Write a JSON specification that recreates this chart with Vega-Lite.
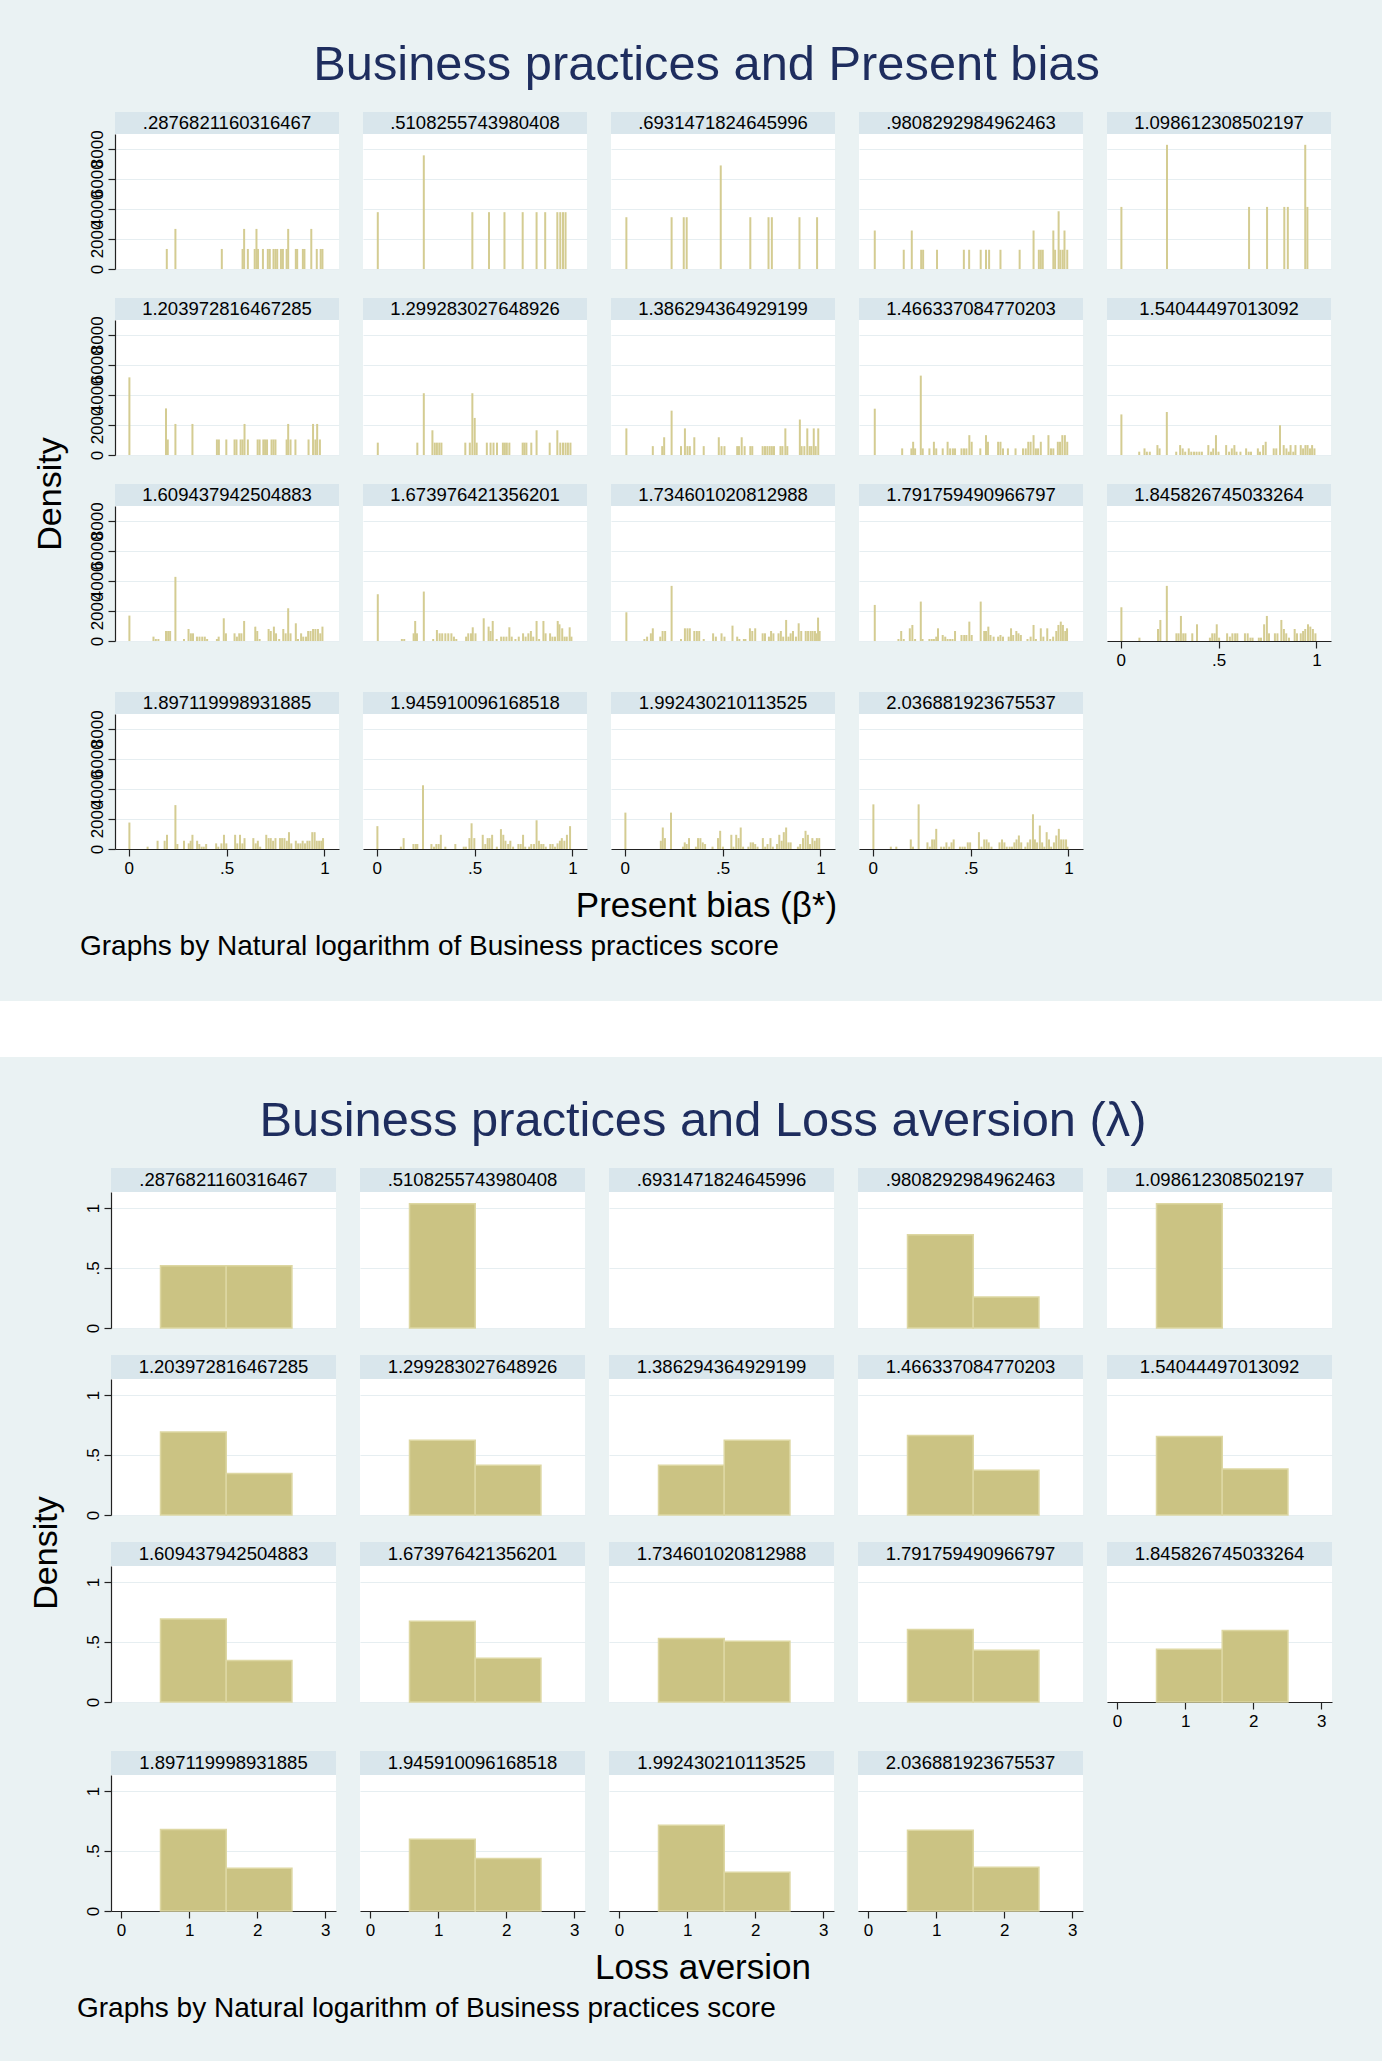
{
"$schema": "https://vega.github.io/schema/vega-lite/v6.json",
"background": "#EAF2F3",
"padding": {"top": 41, "left": 0, "right": 0, "bottom": 40},
"config": {
  "font": "Liberation Sans",
  "view": {"stroke": null, "fill": "white"},
  "axis": {"labelFont": "Liberation Sans", "labelFontSize": 17, "labelColor": "#000", "tickColor": "#222", "domainColor": "#222", "domainWidth": 1.2, "tickWidth": 1.2, "gridColor": "#E6EEF1", "gridWidth": 1.2},
  "axisY": {"grid": true},
  "axisX": {"grid": false},
  "title": {"font": "Liberation Sans", "fontWeight": "normal", "color": "#000"},
  "text": {"font": "Liberation Sans", "color": "#000"}
},
"datasets": {
"A1": [{"x":0.195,"y":1333},{"x":0.239,"y":2667},{"x":0.476,"y":1333},{"x":0.582,"y":1333},{"x":0.59,"y":2667},{"x":0.609,"y":1333},{"x":0.644,"y":1333},{"x":0.653,"y":2667},{"x":0.661,"y":1333},{"x":0.686,"y":1333},{"x":0.711,"y":1333},{"x":0.721,"y":1333},{"x":0.74,"y":1333},{"x":0.75,"y":1333},{"x":0.759,"y":1333},{"x":0.778,"y":1333},{"x":0.788,"y":1333},{"x":0.807,"y":1333},{"x":0.815,"y":2667},{"x":0.854,"y":1333},{"x":0.861,"y":1333},{"x":0.89,"y":1333},{"x":0.898,"y":1333},{"x":0.933,"y":2667},{"x":0.961,"y":1333},{"x":0.981,"y":1333},{"x":0.99,"y":1333}],
"A2": [{"x":0.006,"y":3780},{"x":0.241,"y":7560},{"x":0.489,"y":3780},{"x":0.574,"y":3780},{"x":0.653,"y":3780},{"x":0.746,"y":3780},{"x":0.817,"y":3780},{"x":0.861,"y":3780},{"x":0.923,"y":3780},{"x":0.938,"y":3780},{"x":0.952,"y":3780},{"x":0.965,"y":3780}],
"A3": [{"x":0.009,"y":3444},{"x":0.24,"y":3444},{"x":0.302,"y":3444},{"x":0.317,"y":3444},{"x":0.491,"y":6889},{"x":0.642,"y":3444},{"x":0.735,"y":3444},{"x":0.752,"y":3444},{"x":0.893,"y":3444},{"x":0.983,"y":3444}],
"A4": [{"x":0.011,"y":2560},{"x":0.159,"y":1280},{"x":0.2,"y":2560},{"x":0.248,"y":1280},{"x":0.258,"y":1280},{"x":0.329,"y":1280},{"x":0.466,"y":1280},{"x":0.493,"y":1280},{"x":0.552,"y":1280},{"x":0.579,"y":1280},{"x":0.595,"y":1280},{"x":0.653,"y":1280},{"x":0.751,"y":1280},{"x":0.822,"y":2560},{"x":0.849,"y":1280},{"x":0.859,"y":1280},{"x":0.869,"y":1280},{"x":0.923,"y":2560},{"x":0.932,"y":1280},{"x":0.95,"y":3840},{"x":0.959,"y":1280},{"x":0.971,"y":1280},{"x":0.98,"y":2560},{"x":0.994,"y":1280}],
"A5": [{"x":0.004,"y":4130},{"x":0.237,"y":8260},{"x":0.656,"y":4130},{"x":0.748,"y":4130},{"x":0.836,"y":4130},{"x":0.854,"y":4130},{"x":0.943,"y":8260},{"x":0.954,"y":4130}],
"A6": [{"x":0.004,"y":5165},{"x":0.191,"y":3100},{"x":0.2,"y":1033},{"x":0.239,"y":2066},{"x":0.326,"y":2066},{"x":0.451,"y":1033},{"x":0.461,"y":1033},{"x":0.499,"y":1033},{"x":0.541,"y":1033},{"x":0.551,"y":1033},{"x":0.572,"y":1033},{"x":0.582,"y":1033},{"x":0.592,"y":2066},{"x":0.609,"y":1033},{"x":0.659,"y":1033},{"x":0.669,"y":1033},{"x":0.688,"y":1033},{"x":0.697,"y":1033},{"x":0.707,"y":1033},{"x":0.73,"y":1033},{"x":0.74,"y":1033},{"x":0.75,"y":1033},{"x":0.807,"y":1033},{"x":0.815,"y":2066},{"x":0.827,"y":1033},{"x":0.852,"y":1033},{"x":0.919,"y":1033},{"x":0.942,"y":2066},{"x":0.954,"y":1033},{"x":0.963,"y":2066},{"x":0.977,"y":1033}],
"A7": [{"x":0.006,"y":822},{"x":0.208,"y":822},{"x":0.241,"y":4110},{"x":0.285,"y":1644},{"x":0.297,"y":822},{"x":0.308,"y":822},{"x":0.32,"y":822},{"x":0.331,"y":822},{"x":0.453,"y":822},{"x":0.476,"y":822},{"x":0.489,"y":4110},{"x":0.501,"y":2466},{"x":0.511,"y":822},{"x":0.563,"y":822},{"x":0.582,"y":822},{"x":0.597,"y":822},{"x":0.615,"y":822},{"x":0.645,"y":822},{"x":0.655,"y":822},{"x":0.665,"y":822},{"x":0.678,"y":822},{"x":0.746,"y":822},{"x":0.755,"y":822},{"x":0.765,"y":822},{"x":0.79,"y":822},{"x":0.817,"y":1644},{"x":0.884,"y":822},{"x":0.923,"y":1644},{"x":0.938,"y":822},{"x":0.952,"y":822},{"x":0.965,"y":822},{"x":0.977,"y":822},{"x":0.99,"y":822}],
"A8": [{"x":0.009,"y":1770},{"x":0.144,"y":590},{"x":0.192,"y":590},{"x":0.202,"y":1180},{"x":0.24,"y":2950},{"x":0.288,"y":590},{"x":0.308,"y":1770},{"x":0.321,"y":590},{"x":0.333,"y":590},{"x":0.356,"y":1180},{"x":0.404,"y":590},{"x":0.481,"y":1180},{"x":0.495,"y":590},{"x":0.51,"y":590},{"x":0.575,"y":590},{"x":0.584,"y":590},{"x":0.598,"y":1180},{"x":0.613,"y":590},{"x":0.642,"y":590},{"x":0.652,"y":590},{"x":0.705,"y":590},{"x":0.717,"y":590},{"x":0.729,"y":590},{"x":0.741,"y":590},{"x":0.752,"y":590},{"x":0.763,"y":590},{"x":0.796,"y":590},{"x":0.806,"y":590},{"x":0.821,"y":1770},{"x":0.831,"y":590},{"x":0.895,"y":2360},{"x":0.904,"y":590},{"x":0.918,"y":590},{"x":0.933,"y":1770},{"x":0.945,"y":590},{"x":0.954,"y":590},{"x":0.966,"y":1770},{"x":0.976,"y":590},{"x":0.989,"y":1770}],
"A9": [{"x":0.011,"y":3080},{"x":0.151,"y":440},{"x":0.198,"y":440},{"x":0.207,"y":880},{"x":0.217,"y":440},{"x":0.246,"y":5280},{"x":0.256,"y":440},{"x":0.29,"y":440},{"x":0.313,"y":880},{"x":0.325,"y":440},{"x":0.358,"y":440},{"x":0.383,"y":880},{"x":0.396,"y":440},{"x":0.41,"y":440},{"x":0.421,"y":440},{"x":0.454,"y":440},{"x":0.467,"y":440},{"x":0.479,"y":440},{"x":0.494,"y":1320},{"x":0.506,"y":880},{"x":0.55,"y":440},{"x":0.579,"y":1320},{"x":0.589,"y":880},{"x":0.641,"y":880},{"x":0.653,"y":880},{"x":0.666,"y":440},{"x":0.691,"y":440},{"x":0.73,"y":440},{"x":0.768,"y":440},{"x":0.782,"y":440},{"x":0.795,"y":880},{"x":0.807,"y":880},{"x":0.822,"y":1320},{"x":0.834,"y":440},{"x":0.845,"y":440},{"x":0.859,"y":880},{"x":0.898,"y":1320},{"x":0.911,"y":440},{"x":0.923,"y":440},{"x":0.946,"y":880},{"x":0.957,"y":880},{"x":0.969,"y":1320},{"x":0.982,"y":1320},{"x":0.994,"y":880}],
"A10": [{"x":0.004,"y":2700},{"x":0.095,"y":220},{"x":0.122,"y":440},{"x":0.134,"y":220},{"x":0.149,"y":220},{"x":0.188,"y":660},{"x":0.199,"y":440},{"x":0.236,"y":2860},{"x":0.284,"y":220},{"x":0.304,"y":660},{"x":0.317,"y":440},{"x":0.33,"y":220},{"x":0.348,"y":440},{"x":0.361,"y":220},{"x":0.375,"y":220},{"x":0.388,"y":220},{"x":0.402,"y":220},{"x":0.415,"y":220},{"x":0.448,"y":660},{"x":0.462,"y":220},{"x":0.473,"y":440},{"x":0.487,"y":1320},{"x":0.5,"y":220},{"x":0.539,"y":660},{"x":0.554,"y":220},{"x":0.568,"y":440},{"x":0.581,"y":660},{"x":0.592,"y":220},{"x":0.612,"y":220},{"x":0.641,"y":440},{"x":0.654,"y":220},{"x":0.666,"y":220},{"x":0.701,"y":440},{"x":0.712,"y":220},{"x":0.728,"y":660},{"x":0.741,"y":880},{"x":0.782,"y":440},{"x":0.795,"y":440},{"x":0.814,"y":1980},{"x":0.833,"y":660},{"x":0.847,"y":440},{"x":0.859,"y":220},{"x":0.868,"y":660},{"x":0.882,"y":220},{"x":0.893,"y":660},{"x":0.92,"y":660},{"x":0.932,"y":440},{"x":0.944,"y":660},{"x":0.955,"y":660},{"x":0.967,"y":440},{"x":0.978,"y":660},{"x":0.99,"y":440}],
"A11": [{"x":0.004,"y":1690},{"x":0.127,"y":290},{"x":0.139,"y":133},{"x":0.152,"y":133},{"x":0.191,"y":667},{"x":0.202,"y":667},{"x":0.212,"y":667},{"x":0.239,"y":4267},{"x":0.283,"y":133},{"x":0.306,"y":800},{"x":0.318,"y":511},{"x":0.329,"y":511},{"x":0.349,"y":289},{"x":0.362,"y":289},{"x":0.376,"y":289},{"x":0.389,"y":289},{"x":0.401,"y":133},{"x":0.451,"y":133},{"x":0.46,"y":289},{"x":0.486,"y":1511},{"x":0.497,"y":511},{"x":0.541,"y":511},{"x":0.553,"y":289},{"x":0.565,"y":511},{"x":0.576,"y":511},{"x":0.59,"y":1333},{"x":0.647,"y":956},{"x":0.657,"y":667},{"x":0.669,"y":133},{"x":0.715,"y":800},{"x":0.726,"y":667},{"x":0.742,"y":956},{"x":0.753,"y":511},{"x":0.769,"y":133},{"x":0.79,"y":800},{"x":0.802,"y":511},{"x":0.815,"y":2178},{"x":0.827,"y":511},{"x":0.854,"y":1178},{"x":0.865,"y":133},{"x":0.881,"y":511},{"x":0.892,"y":289},{"x":0.906,"y":289},{"x":0.917,"y":667},{"x":0.929,"y":667},{"x":0.942,"y":800},{"x":0.954,"y":800},{"x":0.967,"y":800},{"x":0.979,"y":511},{"x":0.99,"y":956}],
"A12": [{"x":0.006,"y":3111},{"x":0.129,"y":133},{"x":0.141,"y":133},{"x":0.189,"y":511},{"x":0.197,"y":1333},{"x":0.206,"y":511},{"x":0.241,"y":3289},{"x":0.289,"y":133},{"x":0.308,"y":733},{"x":0.322,"y":511},{"x":0.335,"y":511},{"x":0.351,"y":511},{"x":0.366,"y":511},{"x":0.382,"y":511},{"x":0.395,"y":289},{"x":0.407,"y":133},{"x":0.457,"y":289},{"x":0.468,"y":511},{"x":0.482,"y":511},{"x":0.491,"y":911},{"x":0.505,"y":511},{"x":0.547,"y":1511},{"x":0.572,"y":956},{"x":0.582,"y":667},{"x":0.593,"y":1333},{"x":0.613,"y":133},{"x":0.636,"y":289},{"x":0.649,"y":289},{"x":0.663,"y":289},{"x":0.678,"y":911},{"x":0.69,"y":289},{"x":0.709,"y":133},{"x":0.726,"y":289},{"x":0.748,"y":511},{"x":0.761,"y":289},{"x":0.775,"y":511},{"x":0.788,"y":667},{"x":0.8,"y":289},{"x":0.817,"y":1333},{"x":0.83,"y":133},{"x":0.852,"y":1333},{"x":0.863,"y":511},{"x":0.886,"y":511},{"x":0.898,"y":289},{"x":0.911,"y":289},{"x":0.925,"y":1333},{"x":0.934,"y":1111},{"x":0.948,"y":844},{"x":0.96,"y":289},{"x":0.971,"y":289},{"x":0.986,"y":911},{"x":0.995,"y":289}],
"A13": [{"x":0.009,"y":1911},{"x":0.101,"y":133},{"x":0.115,"y":289},{"x":0.134,"y":511},{"x":0.144,"y":844},{"x":0.182,"y":289},{"x":0.194,"y":667},{"x":0.207,"y":667},{"x":0.24,"y":3667},{"x":0.288,"y":133},{"x":0.308,"y":844},{"x":0.321,"y":844},{"x":0.333,"y":844},{"x":0.356,"y":667},{"x":0.369,"y":667},{"x":0.381,"y":667},{"x":0.404,"y":133},{"x":0.452,"y":511},{"x":0.466,"y":289},{"x":0.495,"y":511},{"x":0.51,"y":289},{"x":0.551,"y":1022},{"x":0.575,"y":289},{"x":0.586,"y":133},{"x":0.609,"y":133},{"x":0.617,"y":133},{"x":0.64,"y":844},{"x":0.652,"y":667},{"x":0.667,"y":844},{"x":0.705,"y":511},{"x":0.717,"y":511},{"x":0.737,"y":289},{"x":0.748,"y":667},{"x":0.76,"y":511},{"x":0.786,"y":511},{"x":0.798,"y":667},{"x":0.81,"y":289},{"x":0.825,"y":1400},{"x":0.837,"y":289},{"x":0.848,"y":511},{"x":0.86,"y":667},{"x":0.875,"y":289},{"x":0.889,"y":1178},{"x":0.902,"y":667},{"x":0.925,"y":667},{"x":0.937,"y":667},{"x":0.95,"y":667},{"x":0.96,"y":667},{"x":0.972,"y":667},{"x":0.979,"y":511},{"x":0.988,"y":1556},{"x":0.996,"y":667}],
"A14": [{"x":0.011,"y":2400},{"x":0.132,"y":133},{"x":0.146,"y":667},{"x":0.159,"y":133},{"x":0.19,"y":844},{"x":0.203,"y":1067},{"x":0.217,"y":133},{"x":0.246,"y":2622},{"x":0.255,"y":133},{"x":0.29,"y":133},{"x":0.302,"y":133},{"x":0.313,"y":133},{"x":0.325,"y":289},{"x":0.334,"y":844},{"x":0.358,"y":400},{"x":0.371,"y":289},{"x":0.383,"y":133},{"x":0.396,"y":133},{"x":0.408,"y":133},{"x":0.421,"y":667},{"x":0.454,"y":400},{"x":0.468,"y":400},{"x":0.479,"y":400},{"x":0.494,"y":1289},{"x":0.506,"y":400},{"x":0.552,"y":2622},{"x":0.57,"y":667},{"x":0.579,"y":667},{"x":0.591,"y":956},{"x":0.602,"y":400},{"x":0.618,"y":289},{"x":0.641,"y":289},{"x":0.653,"y":400},{"x":0.666,"y":289},{"x":0.695,"y":289},{"x":0.707,"y":844},{"x":0.718,"y":400},{"x":0.734,"y":667},{"x":0.745,"y":511},{"x":0.757,"y":400},{"x":0.791,"y":133},{"x":0.807,"y":289},{"x":0.822,"y":1067},{"x":0.834,"y":133},{"x":0.859,"y":844},{"x":0.872,"y":289},{"x":0.892,"y":844},{"x":0.907,"y":133},{"x":0.922,"y":289},{"x":0.938,"y":667},{"x":0.949,"y":1067},{"x":0.961,"y":1289},{"x":0.972,"y":1067},{"x":0.984,"y":667},{"x":0.993,"y":844}],
"A15": [{"x":0.004,"y":2244},{"x":0.096,"y":222},{"x":0.191,"y":800},{"x":0.203,"y":1400},{"x":0.236,"y":3667},{"x":0.285,"y":511},{"x":0.296,"y":511},{"x":0.308,"y":1667},{"x":0.32,"y":511},{"x":0.331,"y":511},{"x":0.366,"y":511},{"x":0.39,"y":1111},{"x":0.456,"y":222},{"x":0.468,"y":511},{"x":0.48,"y":511},{"x":0.491,"y":1111},{"x":0.503,"y":222},{"x":0.544,"y":511},{"x":0.558,"y":289},{"x":0.571,"y":511},{"x":0.585,"y":511},{"x":0.596,"y":511},{"x":0.635,"y":511},{"x":0.649,"y":511},{"x":0.663,"y":222},{"x":0.674,"y":222},{"x":0.706,"y":222},{"x":0.717,"y":222},{"x":0.733,"y":1111},{"x":0.747,"y":1667},{"x":0.758,"y":511},{"x":0.788,"y":511},{"x":0.801,"y":511},{"x":0.821,"y":1400},{"x":0.834,"y":800},{"x":0.846,"y":511},{"x":0.86,"y":222},{"x":0.889,"y":800},{"x":0.901,"y":511},{"x":0.92,"y":511},{"x":0.932,"y":667},{"x":0.943,"y":800},{"x":0.957,"y":1111},{"x":0.969,"y":956},{"x":0.982,"y":800},{"x":0.995,"y":511}],
"A16": [{"x":0.004,"y":1760},{"x":0.097,"y":154},{"x":0.148,"y":550},{"x":0.184,"y":550},{"x":0.196,"y":945},{"x":0.239,"y":2920},{"x":0.249,"y":330},{"x":0.283,"y":550},{"x":0.307,"y":374},{"x":0.317,"y":550},{"x":0.326,"y":945},{"x":0.35,"y":550},{"x":0.361,"y":330},{"x":0.373,"y":154},{"x":0.384,"y":154},{"x":0.396,"y":330},{"x":0.447,"y":374},{"x":0.458,"y":154},{"x":0.474,"y":374},{"x":0.487,"y":945},{"x":0.499,"y":374},{"x":0.544,"y":945},{"x":0.555,"y":374},{"x":0.569,"y":945},{"x":0.581,"y":374},{"x":0.592,"y":725},{"x":0.637,"y":725},{"x":0.649,"y":374},{"x":0.66,"y":550},{"x":0.672,"y":154},{"x":0.703,"y":945},{"x":0.715,"y":725},{"x":0.726,"y":725},{"x":0.738,"y":550},{"x":0.75,"y":725},{"x":0.773,"y":725},{"x":0.784,"y":725},{"x":0.796,"y":725},{"x":0.808,"y":550},{"x":0.819,"y":1120},{"x":0.831,"y":374},{"x":0.854,"y":550},{"x":0.866,"y":374},{"x":0.878,"y":374},{"x":0.889,"y":550},{"x":0.901,"y":374},{"x":0.913,"y":550},{"x":0.924,"y":550},{"x":0.938,"y":1120},{"x":0.95,"y":1120},{"x":0.961,"y":550},{"x":0.973,"y":550},{"x":0.984,"y":550},{"x":0.993,"y":725}],
"A17": [{"x":0.004,"y":1520},{"x":0.124,"y":154},{"x":0.138,"y":725},{"x":0.188,"y":330},{"x":0.2,"y":330},{"x":0.208,"y":330},{"x":0.237,"y":4240},{"x":0.28,"y":330},{"x":0.293,"y":154},{"x":0.305,"y":330},{"x":0.317,"y":330},{"x":0.328,"y":945},{"x":0.351,"y":154},{"x":0.402,"y":330},{"x":0.445,"y":154},{"x":0.456,"y":154},{"x":0.474,"y":725},{"x":0.485,"y":1710},{"x":0.499,"y":725},{"x":0.542,"y":945},{"x":0.555,"y":330},{"x":0.567,"y":725},{"x":0.577,"y":725},{"x":0.59,"y":945},{"x":0.614,"y":154},{"x":0.635,"y":1320},{"x":0.647,"y":945},{"x":0.658,"y":550},{"x":0.672,"y":330},{"x":0.683,"y":550},{"x":0.697,"y":154},{"x":0.724,"y":330},{"x":0.736,"y":330},{"x":0.748,"y":945},{"x":0.759,"y":154},{"x":0.779,"y":154},{"x":0.79,"y":330},{"x":0.804,"y":330},{"x":0.817,"y":1910},{"x":0.829,"y":550},{"x":0.841,"y":330},{"x":0.852,"y":330},{"x":0.864,"y":154},{"x":0.887,"y":330},{"x":0.899,"y":330},{"x":0.911,"y":154},{"x":0.924,"y":374},{"x":0.936,"y":550},{"x":0.946,"y":725},{"x":0.959,"y":550},{"x":0.972,"y":945},{"x":0.988,"y":1520}],
"A18": [{"x":0.004,"y":2420},{"x":0.185,"y":550},{"x":0.195,"y":1430},{"x":0.206,"y":725},{"x":0.237,"y":2420},{"x":0.298,"y":154},{"x":0.307,"y":440},{"x":0.317,"y":330},{"x":0.329,"y":725},{"x":0.364,"y":154},{"x":0.375,"y":725},{"x":0.387,"y":725},{"x":0.399,"y":440},{"x":0.411,"y":330},{"x":0.449,"y":154},{"x":0.477,"y":725},{"x":0.488,"y":1210},{"x":0.502,"y":154},{"x":0.545,"y":945},{"x":0.556,"y":154},{"x":0.57,"y":945},{"x":0.582,"y":725},{"x":0.593,"y":1430},{"x":0.605,"y":154},{"x":0.632,"y":154},{"x":0.644,"y":440},{"x":0.656,"y":440},{"x":0.667,"y":330},{"x":0.679,"y":154},{"x":0.706,"y":725},{"x":0.718,"y":154},{"x":0.73,"y":330},{"x":0.745,"y":725},{"x":0.757,"y":154},{"x":0.778,"y":330},{"x":0.79,"y":945},{"x":0.802,"y":550},{"x":0.813,"y":1120},{"x":0.825,"y":1430},{"x":0.837,"y":440},{"x":0.848,"y":440},{"x":0.885,"y":154},{"x":0.897,"y":330},{"x":0.911,"y":725},{"x":0.924,"y":1210},{"x":0.936,"y":945},{"x":0.947,"y":330},{"x":0.959,"y":725},{"x":0.971,"y":550},{"x":0.982,"y":725},{"x":0.994,"y":725}],
"A19": [{"x":0.004,"y":2970},{"x":0.093,"y":154},{"x":0.121,"y":154},{"x":0.195,"y":637},{"x":0.206,"y":154},{"x":0.235,"y":2970},{"x":0.28,"y":440},{"x":0.292,"y":154},{"x":0.304,"y":637},{"x":0.315,"y":637},{"x":0.325,"y":1340},{"x":0.35,"y":154},{"x":0.364,"y":154},{"x":0.377,"y":440},{"x":0.391,"y":154},{"x":0.403,"y":440},{"x":0.414,"y":637},{"x":0.446,"y":154},{"x":0.459,"y":154},{"x":0.471,"y":154},{"x":0.486,"y":440},{"x":0.498,"y":440},{"x":0.543,"y":1120},{"x":0.556,"y":154},{"x":0.57,"y":637},{"x":0.582,"y":637},{"x":0.593,"y":440},{"x":0.607,"y":154},{"x":0.648,"y":440},{"x":0.661,"y":637},{"x":0.673,"y":440},{"x":0.685,"y":154},{"x":0.7,"y":154},{"x":0.712,"y":154},{"x":0.724,"y":440},{"x":0.735,"y":637},{"x":0.747,"y":900},{"x":0.759,"y":440},{"x":0.78,"y":154},{"x":0.792,"y":440},{"x":0.805,"y":637},{"x":0.819,"y":2310},{"x":0.829,"y":637},{"x":0.84,"y":440},{"x":0.854,"y":1560},{"x":0.866,"y":440},{"x":0.877,"y":154},{"x":0.889,"y":1120},{"x":0.901,"y":637},{"x":0.912,"y":154},{"x":0.926,"y":440},{"x":0.938,"y":900},{"x":0.951,"y":1340},{"x":0.963,"y":637},{"x":0.975,"y":637},{"x":0.988,"y":637},{"x":0.995,"y":154}],
"B1": [{"lo":0.58,"hi":1.545,"y":0.518},{"lo":1.545,"hi":2.51,"y":0.518}],
"B2": [{"lo":0.58,"hi":1.545,"y":1.036}],
"B3": [],
"B4": [{"lo":0.58,"hi":1.545,"y":0.777},{"lo":1.545,"hi":2.51,"y":0.259}],
"B5": [{"lo":0.58,"hi":1.545,"y":1.036}],
"B6": [{"lo":0.58,"hi":1.545,"y":0.691},{"lo":1.545,"hi":2.51,"y":0.345}],
"B7": [{"lo":0.58,"hi":1.545,"y":0.622},{"lo":1.545,"hi":2.51,"y":0.414}],
"B8": [{"lo":0.58,"hi":1.545,"y":0.414},{"lo":1.545,"hi":2.51,"y":0.622}],
"B9": [{"lo":0.58,"hi":1.545,"y":0.663},{"lo":1.545,"hi":2.51,"y":0.373}],
"B10": [{"lo":0.58,"hi":1.545,"y":0.653},{"lo":1.545,"hi":2.51,"y":0.383}],
"B11": [{"lo":0.58,"hi":1.545,"y":0.691},{"lo":1.545,"hi":2.51,"y":0.345}],
"B12": [{"lo":0.58,"hi":1.545,"y":0.672},{"lo":1.545,"hi":2.51,"y":0.364}],
"B13": [{"lo":0.58,"hi":1.545,"y":0.53},{"lo":1.545,"hi":2.51,"y":0.506}],
"B14": [{"lo":0.58,"hi":1.545,"y":0.604},{"lo":1.545,"hi":2.51,"y":0.432}],
"B15": [{"lo":0.58,"hi":1.545,"y":0.44},{"lo":1.545,"hi":2.51,"y":0.596}],
"B16": [{"lo":0.58,"hi":1.545,"y":0.68},{"lo":1.545,"hi":2.51,"y":0.356}],
"B17": [{"lo":0.58,"hi":1.545,"y":0.598},{"lo":1.545,"hi":2.51,"y":0.438}],
"B18": [{"lo":0.58,"hi":1.545,"y":0.714},{"lo":1.545,"hi":2.51,"y":0.322}],
"B19": [{"lo":0.58,"hi":1.545,"y":0.672},{"lo":1.545,"hi":2.51,"y":0.364}]
},
"spacing": 40,
"vconcat": [
{"spacing": 0, "hconcat": [
{"width": 34, "height": 20, "view": {"fill": "transparent", "stroke": null}, "data": {"values": []}, "mark": {"type": "text", "text": " "}, "encoding": {}},
{
"title": {"text": "Business practices and Present bias", "fontSize": 48.8, "color": "#1E2D5E", "offset": 22, "anchor": "middle", "dx": 24},
"vconcat": [{
"title": {"text": "Graphs by Natural logarithm of Business practices score", "orient": "bottom", "anchor": "start", "fontSize": 28, "offset": 9, "dx": 46},
"vconcat": [{
"title": {"text": "Present bias (β*)", "orient": "bottom", "anchor": "middle", "fontSize": 35, "offset": 13, "dx": 24},
"vconcat": [{
"title": {"text": "Density", "orient": "left", "anchor": "middle", "fontSize": 34, "offset": 20},
"spacing": 24,
"vconcat": [
{"spacing": 24, "hconcat": [
{"spacing": 0, "bounds": "flush", "vconcat": [
{"width": 224, "height": 22, "view": {"fill": "#D9E6EC", "stroke": null}, "data": {"values": [{"p": ".2876821160316467"}]}, "mark": {"type": "text", "fontSize": 18.5, "baseline": "middle"}, "encoding": {"text": {"field": "p"}, "x": {"field": "p", "type": "nominal", "axis": null}, "y": {"field": "p", "type": "nominal", "axis": null}}},
{"width": 224, "height": 135, "data": {"name": "A1"}, "mark": {"type": "bar", "orient": "vertical", "size": 2, "color": "#D4CC92"}, "encoding": {"x": {"field": "x", "type": "quantitative", "scale": {"domain": [-0.044, 1.049], "nice": false, "zero": false}, "axis": null}, "y": {"field": "y", "type": "quantitative", "scale": {"domain": [0, 8980], "nice": false}, "axis": {"values": [0,2000,4000,6000,8000], "format": "d", "title": null, "labelAngle": 270, "labelAlign": "center", "labelBaseline": "alphabetic", "labelOverlap": false, "labelFlush": false, "labelPadding": 6, "tickSize": 7}}}}
]},
{"spacing": 0, "bounds": "flush", "vconcat": [
{"width": 224, "height": 22, "view": {"fill": "#D9E6EC", "stroke": null}, "data": {"values": [{"p": ".5108255743980408"}]}, "mark": {"type": "text", "fontSize": 18.5, "baseline": "middle"}, "encoding": {"text": {"field": "p"}, "x": {"field": "p", "type": "nominal", "axis": null}, "y": {"field": "p", "type": "nominal", "axis": null}}},
{"width": 224, "height": 135, "data": {"name": "A2"}, "mark": {"type": "bar", "orient": "vertical", "size": 2, "color": "#D4CC92"}, "encoding": {"x": {"field": "x", "type": "quantitative", "scale": {"domain": [-0.044, 1.049], "nice": false, "zero": false}, "axis": null}, "y": {"field": "y", "type": "quantitative", "scale": {"domain": [0, 8980], "nice": false}, "axis": {"values": [0,2000,4000,6000,8000], "title": null, "labels": false, "ticks": false, "domain": false}}}}
]},
{"spacing": 0, "bounds": "flush", "vconcat": [
{"width": 224, "height": 22, "view": {"fill": "#D9E6EC", "stroke": null}, "data": {"values": [{"p": ".6931471824645996"}]}, "mark": {"type": "text", "fontSize": 18.5, "baseline": "middle"}, "encoding": {"text": {"field": "p"}, "x": {"field": "p", "type": "nominal", "axis": null}, "y": {"field": "p", "type": "nominal", "axis": null}}},
{"width": 224, "height": 135, "data": {"name": "A3"}, "mark": {"type": "bar", "orient": "vertical", "size": 2, "color": "#D4CC92"}, "encoding": {"x": {"field": "x", "type": "quantitative", "scale": {"domain": [-0.044, 1.049], "nice": false, "zero": false}, "axis": null}, "y": {"field": "y", "type": "quantitative", "scale": {"domain": [0, 8980], "nice": false}, "axis": {"values": [0,2000,4000,6000,8000], "title": null, "labels": false, "ticks": false, "domain": false}}}}
]},
{"spacing": 0, "bounds": "flush", "vconcat": [
{"width": 224, "height": 22, "view": {"fill": "#D9E6EC", "stroke": null}, "data": {"values": [{"p": ".9808292984962463"}]}, "mark": {"type": "text", "fontSize": 18.5, "baseline": "middle"}, "encoding": {"text": {"field": "p"}, "x": {"field": "p", "type": "nominal", "axis": null}, "y": {"field": "p", "type": "nominal", "axis": null}}},
{"width": 224, "height": 135, "data": {"name": "A4"}, "mark": {"type": "bar", "orient": "vertical", "size": 2, "color": "#D4CC92"}, "encoding": {"x": {"field": "x", "type": "quantitative", "scale": {"domain": [-0.044, 1.049], "nice": false, "zero": false}, "axis": null}, "y": {"field": "y", "type": "quantitative", "scale": {"domain": [0, 8980], "nice": false}, "axis": {"values": [0,2000,4000,6000,8000], "title": null, "labels": false, "ticks": false, "domain": false}}}}
]},
{"spacing": 0, "bounds": "flush", "vconcat": [
{"width": 224, "height": 22, "view": {"fill": "#D9E6EC", "stroke": null}, "data": {"values": [{"p": "1.098612308502197"}]}, "mark": {"type": "text", "fontSize": 18.5, "baseline": "middle"}, "encoding": {"text": {"field": "p"}, "x": {"field": "p", "type": "nominal", "axis": null}, "y": {"field": "p", "type": "nominal", "axis": null}}},
{"width": 224, "height": 135, "data": {"name": "A5"}, "mark": {"type": "bar", "orient": "vertical", "size": 2, "color": "#D4CC92"}, "encoding": {"x": {"field": "x", "type": "quantitative", "scale": {"domain": [-0.044, 1.049], "nice": false, "zero": false}, "axis": null}, "y": {"field": "y", "type": "quantitative", "scale": {"domain": [0, 8980], "nice": false}, "axis": {"values": [0,2000,4000,6000,8000], "title": null, "labels": false, "ticks": false, "domain": false}}}}
]}
]},
{"spacing": 24, "hconcat": [
{"spacing": 0, "bounds": "flush", "vconcat": [
{"width": 224, "height": 22, "view": {"fill": "#D9E6EC", "stroke": null}, "data": {"values": [{"p": "1.203972816467285"}]}, "mark": {"type": "text", "fontSize": 18.5, "baseline": "middle"}, "encoding": {"text": {"field": "p"}, "x": {"field": "p", "type": "nominal", "axis": null}, "y": {"field": "p", "type": "nominal", "axis": null}}},
{"width": 224, "height": 135, "data": {"name": "A6"}, "mark": {"type": "bar", "orient": "vertical", "size": 2, "color": "#D4CC92"}, "encoding": {"x": {"field": "x", "type": "quantitative", "scale": {"domain": [-0.044, 1.049], "nice": false, "zero": false}, "axis": null}, "y": {"field": "y", "type": "quantitative", "scale": {"domain": [0, 8980], "nice": false}, "axis": {"values": [0,2000,4000,6000,8000], "format": "d", "title": null, "labelAngle": 270, "labelAlign": "center", "labelBaseline": "alphabetic", "labelOverlap": false, "labelFlush": false, "labelPadding": 6, "tickSize": 7}}}}
]},
{"spacing": 0, "bounds": "flush", "vconcat": [
{"width": 224, "height": 22, "view": {"fill": "#D9E6EC", "stroke": null}, "data": {"values": [{"p": "1.299283027648926"}]}, "mark": {"type": "text", "fontSize": 18.5, "baseline": "middle"}, "encoding": {"text": {"field": "p"}, "x": {"field": "p", "type": "nominal", "axis": null}, "y": {"field": "p", "type": "nominal", "axis": null}}},
{"width": 224, "height": 135, "data": {"name": "A7"}, "mark": {"type": "bar", "orient": "vertical", "size": 2, "color": "#D4CC92"}, "encoding": {"x": {"field": "x", "type": "quantitative", "scale": {"domain": [-0.044, 1.049], "nice": false, "zero": false}, "axis": null}, "y": {"field": "y", "type": "quantitative", "scale": {"domain": [0, 8980], "nice": false}, "axis": {"values": [0,2000,4000,6000,8000], "title": null, "labels": false, "ticks": false, "domain": false}}}}
]},
{"spacing": 0, "bounds": "flush", "vconcat": [
{"width": 224, "height": 22, "view": {"fill": "#D9E6EC", "stroke": null}, "data": {"values": [{"p": "1.386294364929199"}]}, "mark": {"type": "text", "fontSize": 18.5, "baseline": "middle"}, "encoding": {"text": {"field": "p"}, "x": {"field": "p", "type": "nominal", "axis": null}, "y": {"field": "p", "type": "nominal", "axis": null}}},
{"width": 224, "height": 135, "data": {"name": "A8"}, "mark": {"type": "bar", "orient": "vertical", "size": 2, "color": "#D4CC92"}, "encoding": {"x": {"field": "x", "type": "quantitative", "scale": {"domain": [-0.044, 1.049], "nice": false, "zero": false}, "axis": null}, "y": {"field": "y", "type": "quantitative", "scale": {"domain": [0, 8980], "nice": false}, "axis": {"values": [0,2000,4000,6000,8000], "title": null, "labels": false, "ticks": false, "domain": false}}}}
]},
{"spacing": 0, "bounds": "flush", "vconcat": [
{"width": 224, "height": 22, "view": {"fill": "#D9E6EC", "stroke": null}, "data": {"values": [{"p": "1.466337084770203"}]}, "mark": {"type": "text", "fontSize": 18.5, "baseline": "middle"}, "encoding": {"text": {"field": "p"}, "x": {"field": "p", "type": "nominal", "axis": null}, "y": {"field": "p", "type": "nominal", "axis": null}}},
{"width": 224, "height": 135, "data": {"name": "A9"}, "mark": {"type": "bar", "orient": "vertical", "size": 2, "color": "#D4CC92"}, "encoding": {"x": {"field": "x", "type": "quantitative", "scale": {"domain": [-0.044, 1.049], "nice": false, "zero": false}, "axis": null}, "y": {"field": "y", "type": "quantitative", "scale": {"domain": [0, 8980], "nice": false}, "axis": {"values": [0,2000,4000,6000,8000], "title": null, "labels": false, "ticks": false, "domain": false}}}}
]},
{"spacing": 0, "bounds": "flush", "vconcat": [
{"width": 224, "height": 22, "view": {"fill": "#D9E6EC", "stroke": null}, "data": {"values": [{"p": "1.54044497013092"}]}, "mark": {"type": "text", "fontSize": 18.5, "baseline": "middle"}, "encoding": {"text": {"field": "p"}, "x": {"field": "p", "type": "nominal", "axis": null}, "y": {"field": "p", "type": "nominal", "axis": null}}},
{"width": 224, "height": 135, "data": {"name": "A10"}, "mark": {"type": "bar", "orient": "vertical", "size": 2, "color": "#D4CC92"}, "encoding": {"x": {"field": "x", "type": "quantitative", "scale": {"domain": [-0.044, 1.049], "nice": false, "zero": false}, "axis": null}, "y": {"field": "y", "type": "quantitative", "scale": {"domain": [0, 8980], "nice": false}, "axis": {"values": [0,2000,4000,6000,8000], "title": null, "labels": false, "ticks": false, "domain": false}}}}
]}
]},
{"spacing": 24, "hconcat": [
{"spacing": 0, "bounds": "flush", "vconcat": [
{"width": 224, "height": 22, "view": {"fill": "#D9E6EC", "stroke": null}, "data": {"values": [{"p": "1.609437942504883"}]}, "mark": {"type": "text", "fontSize": 18.5, "baseline": "middle"}, "encoding": {"text": {"field": "p"}, "x": {"field": "p", "type": "nominal", "axis": null}, "y": {"field": "p", "type": "nominal", "axis": null}}},
{"width": 224, "height": 135, "data": {"name": "A11"}, "mark": {"type": "bar", "orient": "vertical", "size": 2, "color": "#D4CC92"}, "encoding": {"x": {"field": "x", "type": "quantitative", "scale": {"domain": [-0.044, 1.049], "nice": false, "zero": false}, "axis": null}, "y": {"field": "y", "type": "quantitative", "scale": {"domain": [0, 8980], "nice": false}, "axis": {"values": [0,2000,4000,6000,8000], "format": "d", "title": null, "labelAngle": 270, "labelAlign": "center", "labelBaseline": "alphabetic", "labelOverlap": false, "labelFlush": false, "labelPadding": 6, "tickSize": 7}}}}
]},
{"spacing": 0, "bounds": "flush", "vconcat": [
{"width": 224, "height": 22, "view": {"fill": "#D9E6EC", "stroke": null}, "data": {"values": [{"p": "1.673976421356201"}]}, "mark": {"type": "text", "fontSize": 18.5, "baseline": "middle"}, "encoding": {"text": {"field": "p"}, "x": {"field": "p", "type": "nominal", "axis": null}, "y": {"field": "p", "type": "nominal", "axis": null}}},
{"width": 224, "height": 135, "data": {"name": "A12"}, "mark": {"type": "bar", "orient": "vertical", "size": 2, "color": "#D4CC92"}, "encoding": {"x": {"field": "x", "type": "quantitative", "scale": {"domain": [-0.044, 1.049], "nice": false, "zero": false}, "axis": null}, "y": {"field": "y", "type": "quantitative", "scale": {"domain": [0, 8980], "nice": false}, "axis": {"values": [0,2000,4000,6000,8000], "title": null, "labels": false, "ticks": false, "domain": false}}}}
]},
{"spacing": 0, "bounds": "flush", "vconcat": [
{"width": 224, "height": 22, "view": {"fill": "#D9E6EC", "stroke": null}, "data": {"values": [{"p": "1.734601020812988"}]}, "mark": {"type": "text", "fontSize": 18.5, "baseline": "middle"}, "encoding": {"text": {"field": "p"}, "x": {"field": "p", "type": "nominal", "axis": null}, "y": {"field": "p", "type": "nominal", "axis": null}}},
{"width": 224, "height": 135, "data": {"name": "A13"}, "mark": {"type": "bar", "orient": "vertical", "size": 2, "color": "#D4CC92"}, "encoding": {"x": {"field": "x", "type": "quantitative", "scale": {"domain": [-0.044, 1.049], "nice": false, "zero": false}, "axis": null}, "y": {"field": "y", "type": "quantitative", "scale": {"domain": [0, 8980], "nice": false}, "axis": {"values": [0,2000,4000,6000,8000], "title": null, "labels": false, "ticks": false, "domain": false}}}}
]},
{"spacing": 0, "bounds": "flush", "vconcat": [
{"width": 224, "height": 22, "view": {"fill": "#D9E6EC", "stroke": null}, "data": {"values": [{"p": "1.791759490966797"}]}, "mark": {"type": "text", "fontSize": 18.5, "baseline": "middle"}, "encoding": {"text": {"field": "p"}, "x": {"field": "p", "type": "nominal", "axis": null}, "y": {"field": "p", "type": "nominal", "axis": null}}},
{"width": 224, "height": 135, "data": {"name": "A14"}, "mark": {"type": "bar", "orient": "vertical", "size": 2, "color": "#D4CC92"}, "encoding": {"x": {"field": "x", "type": "quantitative", "scale": {"domain": [-0.044, 1.049], "nice": false, "zero": false}, "axis": null}, "y": {"field": "y", "type": "quantitative", "scale": {"domain": [0, 8980], "nice": false}, "axis": {"values": [0,2000,4000,6000,8000], "title": null, "labels": false, "ticks": false, "domain": false}}}}
]},
{"spacing": 0, "bounds": "flush", "vconcat": [
{"width": 224, "height": 22, "view": {"fill": "#D9E6EC", "stroke": null}, "data": {"values": [{"p": "1.845826745033264"}]}, "mark": {"type": "text", "fontSize": 18.5, "baseline": "middle"}, "encoding": {"text": {"field": "p"}, "x": {"field": "p", "type": "nominal", "axis": null}, "y": {"field": "p", "type": "nominal", "axis": null}}},
{"width": 224, "height": 135, "data": {"name": "A15"}, "mark": {"type": "bar", "orient": "vertical", "size": 2, "color": "#D4CC92"}, "encoding": {"x": {"field": "x", "type": "quantitative", "scale": {"domain": [-0.044, 1.049], "nice": false, "zero": false}, "axis": {"values": [0, 0.5, 1], "labelExpr": "datum.value == 0.5 ? '.5' : format(datum.value, 'd')", "title": null, "tickSize": 7, "labelPadding": 4}}, "y": {"field": "y", "type": "quantitative", "scale": {"domain": [0, 8980], "nice": false}, "axis": {"values": [0,2000,4000,6000,8000], "title": null, "labels": false, "ticks": false, "domain": false}}}}
]}
]},
{"spacing": 24, "hconcat": [
{"spacing": 0, "bounds": "flush", "vconcat": [
{"width": 224, "height": 22, "view": {"fill": "#D9E6EC", "stroke": null}, "data": {"values": [{"p": "1.897119998931885"}]}, "mark": {"type": "text", "fontSize": 18.5, "baseline": "middle"}, "encoding": {"text": {"field": "p"}, "x": {"field": "p", "type": "nominal", "axis": null}, "y": {"field": "p", "type": "nominal", "axis": null}}},
{"width": 224, "height": 135, "data": {"name": "A16"}, "mark": {"type": "bar", "orient": "vertical", "size": 2, "color": "#D4CC92"}, "encoding": {"x": {"field": "x", "type": "quantitative", "scale": {"domain": [-0.044, 1.049], "nice": false, "zero": false}, "axis": {"values": [0, 0.5, 1], "labelExpr": "datum.value == 0.5 ? '.5' : format(datum.value, 'd')", "title": null, "tickSize": 7, "labelPadding": 4}}, "y": {"field": "y", "type": "quantitative", "scale": {"domain": [0, 8980], "nice": false}, "axis": {"values": [0,2000,4000,6000,8000], "format": "d", "title": null, "labelAngle": 270, "labelAlign": "center", "labelBaseline": "alphabetic", "labelOverlap": false, "labelFlush": false, "labelPadding": 6, "tickSize": 7}}}}
]},
{"spacing": 0, "bounds": "flush", "vconcat": [
{"width": 224, "height": 22, "view": {"fill": "#D9E6EC", "stroke": null}, "data": {"values": [{"p": "1.945910096168518"}]}, "mark": {"type": "text", "fontSize": 18.5, "baseline": "middle"}, "encoding": {"text": {"field": "p"}, "x": {"field": "p", "type": "nominal", "axis": null}, "y": {"field": "p", "type": "nominal", "axis": null}}},
{"width": 224, "height": 135, "data": {"name": "A17"}, "mark": {"type": "bar", "orient": "vertical", "size": 2, "color": "#D4CC92"}, "encoding": {"x": {"field": "x", "type": "quantitative", "scale": {"domain": [-0.044, 1.049], "nice": false, "zero": false}, "axis": {"values": [0, 0.5, 1], "labelExpr": "datum.value == 0.5 ? '.5' : format(datum.value, 'd')", "title": null, "tickSize": 7, "labelPadding": 4}}, "y": {"field": "y", "type": "quantitative", "scale": {"domain": [0, 8980], "nice": false}, "axis": {"values": [0,2000,4000,6000,8000], "title": null, "labels": false, "ticks": false, "domain": false}}}}
]},
{"spacing": 0, "bounds": "flush", "vconcat": [
{"width": 224, "height": 22, "view": {"fill": "#D9E6EC", "stroke": null}, "data": {"values": [{"p": "1.992430210113525"}]}, "mark": {"type": "text", "fontSize": 18.5, "baseline": "middle"}, "encoding": {"text": {"field": "p"}, "x": {"field": "p", "type": "nominal", "axis": null}, "y": {"field": "p", "type": "nominal", "axis": null}}},
{"width": 224, "height": 135, "data": {"name": "A18"}, "mark": {"type": "bar", "orient": "vertical", "size": 2, "color": "#D4CC92"}, "encoding": {"x": {"field": "x", "type": "quantitative", "scale": {"domain": [-0.044, 1.049], "nice": false, "zero": false}, "axis": {"values": [0, 0.5, 1], "labelExpr": "datum.value == 0.5 ? '.5' : format(datum.value, 'd')", "title": null, "tickSize": 7, "labelPadding": 4}}, "y": {"field": "y", "type": "quantitative", "scale": {"domain": [0, 8980], "nice": false}, "axis": {"values": [0,2000,4000,6000,8000], "title": null, "labels": false, "ticks": false, "domain": false}}}}
]},
{"spacing": 0, "bounds": "flush", "vconcat": [
{"width": 224, "height": 22, "view": {"fill": "#D9E6EC", "stroke": null}, "data": {"values": [{"p": "2.036881923675537"}]}, "mark": {"type": "text", "fontSize": 18.5, "baseline": "middle"}, "encoding": {"text": {"field": "p"}, "x": {"field": "p", "type": "nominal", "axis": null}, "y": {"field": "p", "type": "nominal", "axis": null}}},
{"width": 224, "height": 135, "data": {"name": "A19"}, "mark": {"type": "bar", "orient": "vertical", "size": 2, "color": "#D4CC92"}, "encoding": {"x": {"field": "x", "type": "quantitative", "scale": {"domain": [-0.044, 1.049], "nice": false, "zero": false}, "axis": {"values": [0, 0.5, 1], "labelExpr": "datum.value == 0.5 ? '.5' : format(datum.value, 'd')", "title": null, "tickSize": 7, "labelPadding": 4}}, "y": {"field": "y", "type": "quantitative", "scale": {"domain": [0, 8980], "nice": false}, "axis": {"values": [0,2000,4000,6000,8000], "title": null, "labels": false, "ticks": false, "domain": false}}}}
]}
]}
]
}]
}]
}]
}
]},
{"width": 1382, "height": 56, "view": {"fill": "white", "stroke": null}, "data": {"values": []}, "mark": {"type": "text", "text": " "}, "encoding": {}},
{"spacing": 0, "hconcat": [
{"width": 30, "height": 20, "view": {"fill": "transparent", "stroke": null}, "data": {"values": []}, "mark": {"type": "text", "text": " "}, "encoding": {}},
{
"title": {"text": "Business practices and Loss aversion (λ)", "fontSize": 48.8, "color": "#1E2D5E", "offset": 22, "anchor": "middle", "dx": 22},
"vconcat": [{
"title": {"text": "Graphs by Natural logarithm of Business practices score", "orient": "bottom", "anchor": "start", "fontSize": 28, "offset": 9, "dx": 47},
"vconcat": [{
"title": {"text": "Loss aversion", "orient": "bottom", "anchor": "middle", "fontSize": 35, "offset": 13, "dx": 22},
"vconcat": [{
"title": {"text": "Density", "orient": "left", "anchor": "middle", "fontSize": 34, "offset": 20},
"spacing": 22,
"vconcat": [
{"spacing": 24, "hconcat": [
{"spacing": 0, "bounds": "flush", "vconcat": [
{"width": 225, "height": 24, "view": {"fill": "#D9E6EC", "stroke": null}, "data": {"values": [{"p": ".2876821160316467"}]}, "mark": {"type": "text", "fontSize": 18.5, "baseline": "middle"}, "encoding": {"text": {"field": "p"}, "x": {"field": "p", "type": "nominal", "axis": null}, "y": {"field": "p", "type": "nominal", "axis": null}}},
{"width": 225, "height": 136, "data": {"name": "B1"}, "mark": {"type": "bar", "color": "#CBC383", "stroke": "#DDD7A2", "strokeWidth": 1.5}, "encoding": {"x": {"field": "lo", "type": "quantitative", "scale": {"domain": [-0.147, 3.157], "nice": false, "zero": false}, "axis": null}, "x2": {"field": "hi"}, "y": {"field": "y", "type": "quantitative", "scale": {"domain": [0, 1.133], "nice": false}, "axis": {"values": [0, 0.5, 1], "labelExpr": "datum.value == 0.5 ? '.5' : format(datum.value, 'd')", "title": null, "labelAngle": 270, "labelAlign": "center", "labelBaseline": "alphabetic", "labelOverlap": false, "labelFlush": false, "labelPadding": 6, "tickSize": 7}}, "y2": {"datum": 0}}}
]},
{"spacing": 0, "bounds": "flush", "vconcat": [
{"width": 225, "height": 24, "view": {"fill": "#D9E6EC", "stroke": null}, "data": {"values": [{"p": ".5108255743980408"}]}, "mark": {"type": "text", "fontSize": 18.5, "baseline": "middle"}, "encoding": {"text": {"field": "p"}, "x": {"field": "p", "type": "nominal", "axis": null}, "y": {"field": "p", "type": "nominal", "axis": null}}},
{"width": 225, "height": 136, "data": {"name": "B2"}, "mark": {"type": "bar", "color": "#CBC383", "stroke": "#DDD7A2", "strokeWidth": 1.5}, "encoding": {"x": {"field": "lo", "type": "quantitative", "scale": {"domain": [-0.147, 3.157], "nice": false, "zero": false}, "axis": null}, "x2": {"field": "hi"}, "y": {"field": "y", "type": "quantitative", "scale": {"domain": [0, 1.133], "nice": false}, "axis": {"values": [0, 0.5, 1], "title": null, "labels": false, "ticks": false, "domain": false}}, "y2": {"datum": 0}}}
]},
{"spacing": 0, "bounds": "flush", "vconcat": [
{"width": 225, "height": 24, "view": {"fill": "#D9E6EC", "stroke": null}, "data": {"values": [{"p": ".6931471824645996"}]}, "mark": {"type": "text", "fontSize": 18.5, "baseline": "middle"}, "encoding": {"text": {"field": "p"}, "x": {"field": "p", "type": "nominal", "axis": null}, "y": {"field": "p", "type": "nominal", "axis": null}}},
{"width": 225, "height": 136, "data": {"name": "B3"}, "mark": {"type": "bar", "color": "#CBC383", "stroke": "#DDD7A2", "strokeWidth": 1.5}, "encoding": {"x": {"field": "lo", "type": "quantitative", "scale": {"domain": [-0.147, 3.157], "nice": false, "zero": false}, "axis": null}, "x2": {"field": "hi"}, "y": {"field": "y", "type": "quantitative", "scale": {"domain": [0, 1.133], "nice": false}, "axis": {"values": [0, 0.5, 1], "title": null, "labels": false, "ticks": false, "domain": false}}, "y2": {"datum": 0}}}
]},
{"spacing": 0, "bounds": "flush", "vconcat": [
{"width": 225, "height": 24, "view": {"fill": "#D9E6EC", "stroke": null}, "data": {"values": [{"p": ".9808292984962463"}]}, "mark": {"type": "text", "fontSize": 18.5, "baseline": "middle"}, "encoding": {"text": {"field": "p"}, "x": {"field": "p", "type": "nominal", "axis": null}, "y": {"field": "p", "type": "nominal", "axis": null}}},
{"width": 225, "height": 136, "data": {"name": "B4"}, "mark": {"type": "bar", "color": "#CBC383", "stroke": "#DDD7A2", "strokeWidth": 1.5}, "encoding": {"x": {"field": "lo", "type": "quantitative", "scale": {"domain": [-0.147, 3.157], "nice": false, "zero": false}, "axis": null}, "x2": {"field": "hi"}, "y": {"field": "y", "type": "quantitative", "scale": {"domain": [0, 1.133], "nice": false}, "axis": {"values": [0, 0.5, 1], "title": null, "labels": false, "ticks": false, "domain": false}}, "y2": {"datum": 0}}}
]},
{"spacing": 0, "bounds": "flush", "vconcat": [
{"width": 225, "height": 24, "view": {"fill": "#D9E6EC", "stroke": null}, "data": {"values": [{"p": "1.098612308502197"}]}, "mark": {"type": "text", "fontSize": 18.5, "baseline": "middle"}, "encoding": {"text": {"field": "p"}, "x": {"field": "p", "type": "nominal", "axis": null}, "y": {"field": "p", "type": "nominal", "axis": null}}},
{"width": 225, "height": 136, "data": {"name": "B5"}, "mark": {"type": "bar", "color": "#CBC383", "stroke": "#DDD7A2", "strokeWidth": 1.5}, "encoding": {"x": {"field": "lo", "type": "quantitative", "scale": {"domain": [-0.147, 3.157], "nice": false, "zero": false}, "axis": null}, "x2": {"field": "hi"}, "y": {"field": "y", "type": "quantitative", "scale": {"domain": [0, 1.133], "nice": false}, "axis": {"values": [0, 0.5, 1], "title": null, "labels": false, "ticks": false, "domain": false}}, "y2": {"datum": 0}}}
]}
]},
{"spacing": 24, "hconcat": [
{"spacing": 0, "bounds": "flush", "vconcat": [
{"width": 225, "height": 24, "view": {"fill": "#D9E6EC", "stroke": null}, "data": {"values": [{"p": "1.203972816467285"}]}, "mark": {"type": "text", "fontSize": 18.5, "baseline": "middle"}, "encoding": {"text": {"field": "p"}, "x": {"field": "p", "type": "nominal", "axis": null}, "y": {"field": "p", "type": "nominal", "axis": null}}},
{"width": 225, "height": 136, "data": {"name": "B6"}, "mark": {"type": "bar", "color": "#CBC383", "stroke": "#DDD7A2", "strokeWidth": 1.5}, "encoding": {"x": {"field": "lo", "type": "quantitative", "scale": {"domain": [-0.147, 3.157], "nice": false, "zero": false}, "axis": null}, "x2": {"field": "hi"}, "y": {"field": "y", "type": "quantitative", "scale": {"domain": [0, 1.133], "nice": false}, "axis": {"values": [0, 0.5, 1], "labelExpr": "datum.value == 0.5 ? '.5' : format(datum.value, 'd')", "title": null, "labelAngle": 270, "labelAlign": "center", "labelBaseline": "alphabetic", "labelOverlap": false, "labelFlush": false, "labelPadding": 6, "tickSize": 7}}, "y2": {"datum": 0}}}
]},
{"spacing": 0, "bounds": "flush", "vconcat": [
{"width": 225, "height": 24, "view": {"fill": "#D9E6EC", "stroke": null}, "data": {"values": [{"p": "1.299283027648926"}]}, "mark": {"type": "text", "fontSize": 18.5, "baseline": "middle"}, "encoding": {"text": {"field": "p"}, "x": {"field": "p", "type": "nominal", "axis": null}, "y": {"field": "p", "type": "nominal", "axis": null}}},
{"width": 225, "height": 136, "data": {"name": "B7"}, "mark": {"type": "bar", "color": "#CBC383", "stroke": "#DDD7A2", "strokeWidth": 1.5}, "encoding": {"x": {"field": "lo", "type": "quantitative", "scale": {"domain": [-0.147, 3.157], "nice": false, "zero": false}, "axis": null}, "x2": {"field": "hi"}, "y": {"field": "y", "type": "quantitative", "scale": {"domain": [0, 1.133], "nice": false}, "axis": {"values": [0, 0.5, 1], "title": null, "labels": false, "ticks": false, "domain": false}}, "y2": {"datum": 0}}}
]},
{"spacing": 0, "bounds": "flush", "vconcat": [
{"width": 225, "height": 24, "view": {"fill": "#D9E6EC", "stroke": null}, "data": {"values": [{"p": "1.386294364929199"}]}, "mark": {"type": "text", "fontSize": 18.5, "baseline": "middle"}, "encoding": {"text": {"field": "p"}, "x": {"field": "p", "type": "nominal", "axis": null}, "y": {"field": "p", "type": "nominal", "axis": null}}},
{"width": 225, "height": 136, "data": {"name": "B8"}, "mark": {"type": "bar", "color": "#CBC383", "stroke": "#DDD7A2", "strokeWidth": 1.5}, "encoding": {"x": {"field": "lo", "type": "quantitative", "scale": {"domain": [-0.147, 3.157], "nice": false, "zero": false}, "axis": null}, "x2": {"field": "hi"}, "y": {"field": "y", "type": "quantitative", "scale": {"domain": [0, 1.133], "nice": false}, "axis": {"values": [0, 0.5, 1], "title": null, "labels": false, "ticks": false, "domain": false}}, "y2": {"datum": 0}}}
]},
{"spacing": 0, "bounds": "flush", "vconcat": [
{"width": 225, "height": 24, "view": {"fill": "#D9E6EC", "stroke": null}, "data": {"values": [{"p": "1.466337084770203"}]}, "mark": {"type": "text", "fontSize": 18.5, "baseline": "middle"}, "encoding": {"text": {"field": "p"}, "x": {"field": "p", "type": "nominal", "axis": null}, "y": {"field": "p", "type": "nominal", "axis": null}}},
{"width": 225, "height": 136, "data": {"name": "B9"}, "mark": {"type": "bar", "color": "#CBC383", "stroke": "#DDD7A2", "strokeWidth": 1.5}, "encoding": {"x": {"field": "lo", "type": "quantitative", "scale": {"domain": [-0.147, 3.157], "nice": false, "zero": false}, "axis": null}, "x2": {"field": "hi"}, "y": {"field": "y", "type": "quantitative", "scale": {"domain": [0, 1.133], "nice": false}, "axis": {"values": [0, 0.5, 1], "title": null, "labels": false, "ticks": false, "domain": false}}, "y2": {"datum": 0}}}
]},
{"spacing": 0, "bounds": "flush", "vconcat": [
{"width": 225, "height": 24, "view": {"fill": "#D9E6EC", "stroke": null}, "data": {"values": [{"p": "1.54044497013092"}]}, "mark": {"type": "text", "fontSize": 18.5, "baseline": "middle"}, "encoding": {"text": {"field": "p"}, "x": {"field": "p", "type": "nominal", "axis": null}, "y": {"field": "p", "type": "nominal", "axis": null}}},
{"width": 225, "height": 136, "data": {"name": "B10"}, "mark": {"type": "bar", "color": "#CBC383", "stroke": "#DDD7A2", "strokeWidth": 1.5}, "encoding": {"x": {"field": "lo", "type": "quantitative", "scale": {"domain": [-0.147, 3.157], "nice": false, "zero": false}, "axis": null}, "x2": {"field": "hi"}, "y": {"field": "y", "type": "quantitative", "scale": {"domain": [0, 1.133], "nice": false}, "axis": {"values": [0, 0.5, 1], "title": null, "labels": false, "ticks": false, "domain": false}}, "y2": {"datum": 0}}}
]}
]},
{"spacing": 24, "hconcat": [
{"spacing": 0, "bounds": "flush", "vconcat": [
{"width": 225, "height": 24, "view": {"fill": "#D9E6EC", "stroke": null}, "data": {"values": [{"p": "1.609437942504883"}]}, "mark": {"type": "text", "fontSize": 18.5, "baseline": "middle"}, "encoding": {"text": {"field": "p"}, "x": {"field": "p", "type": "nominal", "axis": null}, "y": {"field": "p", "type": "nominal", "axis": null}}},
{"width": 225, "height": 136, "data": {"name": "B11"}, "mark": {"type": "bar", "color": "#CBC383", "stroke": "#DDD7A2", "strokeWidth": 1.5}, "encoding": {"x": {"field": "lo", "type": "quantitative", "scale": {"domain": [-0.147, 3.157], "nice": false, "zero": false}, "axis": null}, "x2": {"field": "hi"}, "y": {"field": "y", "type": "quantitative", "scale": {"domain": [0, 1.133], "nice": false}, "axis": {"values": [0, 0.5, 1], "labelExpr": "datum.value == 0.5 ? '.5' : format(datum.value, 'd')", "title": null, "labelAngle": 270, "labelAlign": "center", "labelBaseline": "alphabetic", "labelOverlap": false, "labelFlush": false, "labelPadding": 6, "tickSize": 7}}, "y2": {"datum": 0}}}
]},
{"spacing": 0, "bounds": "flush", "vconcat": [
{"width": 225, "height": 24, "view": {"fill": "#D9E6EC", "stroke": null}, "data": {"values": [{"p": "1.673976421356201"}]}, "mark": {"type": "text", "fontSize": 18.5, "baseline": "middle"}, "encoding": {"text": {"field": "p"}, "x": {"field": "p", "type": "nominal", "axis": null}, "y": {"field": "p", "type": "nominal", "axis": null}}},
{"width": 225, "height": 136, "data": {"name": "B12"}, "mark": {"type": "bar", "color": "#CBC383", "stroke": "#DDD7A2", "strokeWidth": 1.5}, "encoding": {"x": {"field": "lo", "type": "quantitative", "scale": {"domain": [-0.147, 3.157], "nice": false, "zero": false}, "axis": null}, "x2": {"field": "hi"}, "y": {"field": "y", "type": "quantitative", "scale": {"domain": [0, 1.133], "nice": false}, "axis": {"values": [0, 0.5, 1], "title": null, "labels": false, "ticks": false, "domain": false}}, "y2": {"datum": 0}}}
]},
{"spacing": 0, "bounds": "flush", "vconcat": [
{"width": 225, "height": 24, "view": {"fill": "#D9E6EC", "stroke": null}, "data": {"values": [{"p": "1.734601020812988"}]}, "mark": {"type": "text", "fontSize": 18.5, "baseline": "middle"}, "encoding": {"text": {"field": "p"}, "x": {"field": "p", "type": "nominal", "axis": null}, "y": {"field": "p", "type": "nominal", "axis": null}}},
{"width": 225, "height": 136, "data": {"name": "B13"}, "mark": {"type": "bar", "color": "#CBC383", "stroke": "#DDD7A2", "strokeWidth": 1.5}, "encoding": {"x": {"field": "lo", "type": "quantitative", "scale": {"domain": [-0.147, 3.157], "nice": false, "zero": false}, "axis": null}, "x2": {"field": "hi"}, "y": {"field": "y", "type": "quantitative", "scale": {"domain": [0, 1.133], "nice": false}, "axis": {"values": [0, 0.5, 1], "title": null, "labels": false, "ticks": false, "domain": false}}, "y2": {"datum": 0}}}
]},
{"spacing": 0, "bounds": "flush", "vconcat": [
{"width": 225, "height": 24, "view": {"fill": "#D9E6EC", "stroke": null}, "data": {"values": [{"p": "1.791759490966797"}]}, "mark": {"type": "text", "fontSize": 18.5, "baseline": "middle"}, "encoding": {"text": {"field": "p"}, "x": {"field": "p", "type": "nominal", "axis": null}, "y": {"field": "p", "type": "nominal", "axis": null}}},
{"width": 225, "height": 136, "data": {"name": "B14"}, "mark": {"type": "bar", "color": "#CBC383", "stroke": "#DDD7A2", "strokeWidth": 1.5}, "encoding": {"x": {"field": "lo", "type": "quantitative", "scale": {"domain": [-0.147, 3.157], "nice": false, "zero": false}, "axis": null}, "x2": {"field": "hi"}, "y": {"field": "y", "type": "quantitative", "scale": {"domain": [0, 1.133], "nice": false}, "axis": {"values": [0, 0.5, 1], "title": null, "labels": false, "ticks": false, "domain": false}}, "y2": {"datum": 0}}}
]},
{"spacing": 0, "bounds": "flush", "vconcat": [
{"width": 225, "height": 24, "view": {"fill": "#D9E6EC", "stroke": null}, "data": {"values": [{"p": "1.845826745033264"}]}, "mark": {"type": "text", "fontSize": 18.5, "baseline": "middle"}, "encoding": {"text": {"field": "p"}, "x": {"field": "p", "type": "nominal", "axis": null}, "y": {"field": "p", "type": "nominal", "axis": null}}},
{"width": 225, "height": 136, "data": {"name": "B15"}, "mark": {"type": "bar", "color": "#CBC383", "stroke": "#DDD7A2", "strokeWidth": 1.5}, "encoding": {"x": {"field": "lo", "type": "quantitative", "scale": {"domain": [-0.147, 3.157], "nice": false, "zero": false}, "axis": {"values": [0, 1, 2, 3], "title": null, "tickSize": 7, "labelPadding": 4}}, "x2": {"field": "hi"}, "y": {"field": "y", "type": "quantitative", "scale": {"domain": [0, 1.133], "nice": false}, "axis": {"values": [0, 0.5, 1], "title": null, "labels": false, "ticks": false, "domain": false}}, "y2": {"datum": 0}}}
]}
]},
{"spacing": 24, "hconcat": [
{"spacing": 0, "bounds": "flush", "vconcat": [
{"width": 225, "height": 24, "view": {"fill": "#D9E6EC", "stroke": null}, "data": {"values": [{"p": "1.897119998931885"}]}, "mark": {"type": "text", "fontSize": 18.5, "baseline": "middle"}, "encoding": {"text": {"field": "p"}, "x": {"field": "p", "type": "nominal", "axis": null}, "y": {"field": "p", "type": "nominal", "axis": null}}},
{"width": 225, "height": 136, "data": {"name": "B16"}, "mark": {"type": "bar", "color": "#CBC383", "stroke": "#DDD7A2", "strokeWidth": 1.5}, "encoding": {"x": {"field": "lo", "type": "quantitative", "scale": {"domain": [-0.147, 3.157], "nice": false, "zero": false}, "axis": {"values": [0, 1, 2, 3], "title": null, "tickSize": 7, "labelPadding": 4}}, "x2": {"field": "hi"}, "y": {"field": "y", "type": "quantitative", "scale": {"domain": [0, 1.133], "nice": false}, "axis": {"values": [0, 0.5, 1], "labelExpr": "datum.value == 0.5 ? '.5' : format(datum.value, 'd')", "title": null, "labelAngle": 270, "labelAlign": "center", "labelBaseline": "alphabetic", "labelOverlap": false, "labelFlush": false, "labelPadding": 6, "tickSize": 7}}, "y2": {"datum": 0}}}
]},
{"spacing": 0, "bounds": "flush", "vconcat": [
{"width": 225, "height": 24, "view": {"fill": "#D9E6EC", "stroke": null}, "data": {"values": [{"p": "1.945910096168518"}]}, "mark": {"type": "text", "fontSize": 18.5, "baseline": "middle"}, "encoding": {"text": {"field": "p"}, "x": {"field": "p", "type": "nominal", "axis": null}, "y": {"field": "p", "type": "nominal", "axis": null}}},
{"width": 225, "height": 136, "data": {"name": "B17"}, "mark": {"type": "bar", "color": "#CBC383", "stroke": "#DDD7A2", "strokeWidth": 1.5}, "encoding": {"x": {"field": "lo", "type": "quantitative", "scale": {"domain": [-0.147, 3.157], "nice": false, "zero": false}, "axis": {"values": [0, 1, 2, 3], "title": null, "tickSize": 7, "labelPadding": 4}}, "x2": {"field": "hi"}, "y": {"field": "y", "type": "quantitative", "scale": {"domain": [0, 1.133], "nice": false}, "axis": {"values": [0, 0.5, 1], "title": null, "labels": false, "ticks": false, "domain": false}}, "y2": {"datum": 0}}}
]},
{"spacing": 0, "bounds": "flush", "vconcat": [
{"width": 225, "height": 24, "view": {"fill": "#D9E6EC", "stroke": null}, "data": {"values": [{"p": "1.992430210113525"}]}, "mark": {"type": "text", "fontSize": 18.5, "baseline": "middle"}, "encoding": {"text": {"field": "p"}, "x": {"field": "p", "type": "nominal", "axis": null}, "y": {"field": "p", "type": "nominal", "axis": null}}},
{"width": 225, "height": 136, "data": {"name": "B18"}, "mark": {"type": "bar", "color": "#CBC383", "stroke": "#DDD7A2", "strokeWidth": 1.5}, "encoding": {"x": {"field": "lo", "type": "quantitative", "scale": {"domain": [-0.147, 3.157], "nice": false, "zero": false}, "axis": {"values": [0, 1, 2, 3], "title": null, "tickSize": 7, "labelPadding": 4}}, "x2": {"field": "hi"}, "y": {"field": "y", "type": "quantitative", "scale": {"domain": [0, 1.133], "nice": false}, "axis": {"values": [0, 0.5, 1], "title": null, "labels": false, "ticks": false, "domain": false}}, "y2": {"datum": 0}}}
]},
{"spacing": 0, "bounds": "flush", "vconcat": [
{"width": 225, "height": 24, "view": {"fill": "#D9E6EC", "stroke": null}, "data": {"values": [{"p": "2.036881923675537"}]}, "mark": {"type": "text", "fontSize": 18.5, "baseline": "middle"}, "encoding": {"text": {"field": "p"}, "x": {"field": "p", "type": "nominal", "axis": null}, "y": {"field": "p", "type": "nominal", "axis": null}}},
{"width": 225, "height": 136, "data": {"name": "B19"}, "mark": {"type": "bar", "color": "#CBC383", "stroke": "#DDD7A2", "strokeWidth": 1.5}, "encoding": {"x": {"field": "lo", "type": "quantitative", "scale": {"domain": [-0.147, 3.157], "nice": false, "zero": false}, "axis": {"values": [0, 1, 2, 3], "title": null, "tickSize": 7, "labelPadding": 4}}, "x2": {"field": "hi"}, "y": {"field": "y", "type": "quantitative", "scale": {"domain": [0, 1.133], "nice": false}, "axis": {"values": [0, 0.5, 1], "title": null, "labels": false, "ticks": false, "domain": false}}, "y2": {"datum": 0}}}
]}
]}
]
}]
}]
}]
}
]}
]
}
